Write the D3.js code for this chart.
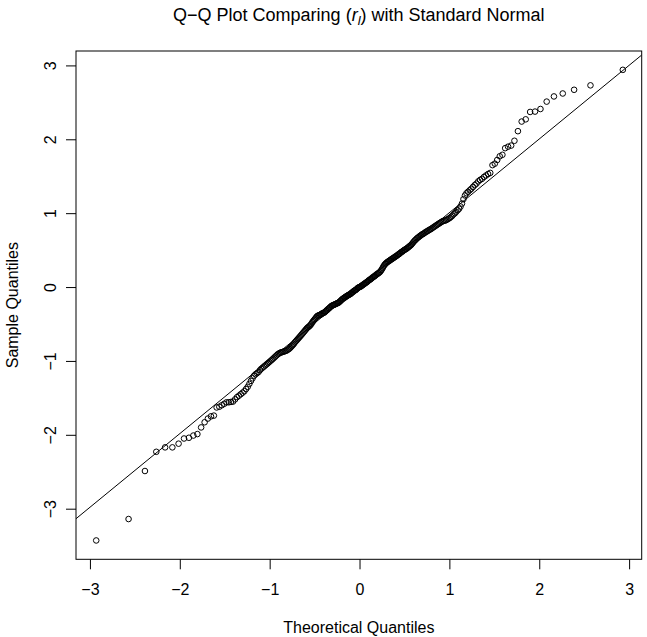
<!DOCTYPE html>
<html>
<head>
<meta charset="utf-8">
<script src="https://cdn.jsdelivr.net/npm/d3@7"></script>
<style>
  body { margin: 0; background: #fff; }
  svg { display: block; font-family: "Liberation Sans", Arial, Helvetica, sans-serif; }
</style>
</head>
<body>
<svg id="chart" width="647" height="637"></svg>
<script>
// sorted sample quantiles (r_l), one per point
const sampleQuantiles = [
  -3.43, -3.14, -2.49, -2.23, -2.17, -2.17, -2.12, -2.05, -2.04, -2.01,
  -1.99, -1.90, -1.83, -1.78, -1.75, -1.74, -1.63, -1.62, -1.60, -1.58,
  -1.56, -1.56,
  -1.555, -1.55, -1.52, -1.49, -1.47, -1.45, -1.43, -1.41, -1.38, -1.35,
  -1.31, -1.27, -1.235,
  -1.20, -1.18, -1.165, -1.15, -1.125, -1.105, -1.09, -1.075, -1.06, -1.045,
  -1.03, -1.015, -1.0, -0.985, -0.97,
  -0.955, -0.94, -0.925, -0.91, -0.90, -0.89, -0.885, -0.88, -0.875, -0.87,
  -0.865, -0.86, -0.85, -0.84, -0.83, -0.815, -0.80, -0.785, -0.77, -0.75,
  -0.735, -0.72, -0.705, -0.69, -0.675,
  -0.66, -0.645, -0.63, -0.615, -0.60, -0.585, -0.57, -0.555, -0.545, -0.535,
  -0.525, -0.51, -0.495, -0.475, -0.46, -0.445, -0.43, -0.415, -0.40, -0.39,
  -0.385, -0.38, -0.375, -0.37, -0.36, -0.355, -0.35, -0.345, -0.335, -0.325,
  -0.315, -0.305, -0.295, -0.285, -0.275,
  -0.265, -0.255, -0.25, -0.245, -0.24, -0.235, -0.23, -0.225, -0.22, -0.215,
  -0.21, -0.20, -0.19, -0.18, -0.17, -0.16, -0.155, -0.145, -0.14, -0.13,
  -0.125, -0.12, -0.11, -0.105, -0.10, -0.095, -0.085, -0.075, -0.07, -0.06,
  -0.05, -0.045, -0.04, -0.03, -0.02, -0.01, -0.005, 0.0, 0.005, 0.01,
  0.02, 0.025, 0.035, 0.04, 0.05, 0.055, 0.065, 0.07, 0.08, 0.09,
  0.095, 0.105, 0.11, 0.12, 0.13, 0.135, 0.145, 0.15, 0.16, 0.17,
  0.175, 0.185, 0.19, 0.20, 0.21, 0.225, 0.24, 0.26, 0.28, 0.295,
  0.31, 0.32, 0.33, 0.34, 0.345, 0.355, 0.36, 0.37, 0.375, 0.385,
  0.39, 0.40, 0.405, 0.415, 0.42, 0.43, 0.44, 0.445, 0.455, 0.465,
  0.475, 0.48, 0.49, 0.50, 0.505, 0.515, 0.52, 0.53, 0.54, 0.55,
  0.56, 0.57, 0.585, 0.60, 0.615, 0.63, 0.64, 0.655, 0.665, 0.675,
  0.685, 0.695, 0.705, 0.715, 0.72, 0.73, 0.74, 0.75, 0.755, 0.765,
  0.775, 0.78, 0.79, 0.80, 0.81, 0.82, 0.83, 0.84, 0.85, 0.86,
  0.87, 0.88, 0.89, 0.895, 0.90, 0.905, 0.915, 0.925, 0.935, 0.95,
  0.965, 0.985, 1.00, 1.02, 1.04, 1.06, 1.09, 1.13, 1.19, 1.24,
  1.27, 1.29, 1.31, 1.33, 1.355, 1.38, 1.40, 1.43, 1.45, 1.465,
  1.49, 1.51, 1.53,
  1.545, 1.65, 1.67, 1.72, 1.77, 1.79, 1.88, 1.90, 1.915, 1.98,
  2.11, 2.24, 2.27, 2.37, 2.375, 2.41, 2.51, 2.58, 2.62, 2.67,
  2.73, 2.94
];

const xTickValues = [-3, -2, -1, 0, 1, 2, 3];
const yTickValues = [-3, -2, -1, 0, 1, 2, 3];

// reference line as drawn (intercept, slope)
const lineIntercept = 0.01;
const lineSlope = 0.997;

// inverse normal cdf (Acklam) -- gives the theoretical quantiles like qnorm(ppoints(n))
function qnorm(p) {
  const a = [-3.969683028665376e+01, 2.209460984245205e+02, -2.759285104469687e+02, 1.383577518672690e+02, -3.066479806614716e+01, 2.506628277459239e+00];
  const b = [-5.447609879822406e+01, 1.615858368580409e+02, -1.556989798598866e+02, 6.680131188771972e+01, -1.328068155288572e+01];
  const c = [-7.784894002430293e-03, -3.223964580411365e-01, -2.400758277161838e+00, -2.549732539343734e+00, 4.374664141464968e+00, 2.938163982698783e+00];
  const d = [7.784695709041462e-03, 3.224671290700398e-01, 2.445134137142996e+00, 3.754408661907416e+00];
  const plow = 0.02425;
  let q, r;
  if (p < plow) {
    q = Math.sqrt(-2 * Math.log(p));
    return (((((c[0]*q+c[1])*q+c[2])*q+c[3])*q+c[4])*q+c[5]) / ((((d[0]*q+d[1])*q+d[2])*q+d[3])*q+1);
  }
  if (p > 1 - plow) {
    q = Math.sqrt(-2 * Math.log(1 - p));
    return -(((((c[0]*q+c[1])*q+c[2])*q+c[3])*q+c[4])*q+c[5]) / ((((d[0]*q+d[1])*q+d[2])*q+d[3])*q+1);
  }
  q = p - 0.5;
  r = q * q;
  return (((((a[0]*r+a[1])*r+a[2])*r+a[3])*r+a[4])*r+a[5])*q / (((((b[0]*r+b[1])*r+b[2])*r+b[3])*r+b[4])*r+1);
}

const n = sampleQuantiles.length;
const points = sampleQuantiles.map((v, i) => ({ t: qnorm((i + 0.5) / n), v: v }));

const box = { left: 76, right: 641.7, top: 51, bottom: 559.3 };

const x = d3.scaleLinear().domain([-3.155, 3.14]).range([box.left, box.right]);
const y = d3.scaleLinear().domain([-3.685, 3.195]).range([box.bottom, box.top]);

const svg = d3.select("#chart");

svg.append("defs").append("clipPath").attr("id", "plotClip")
  .append("rect")
  .attr("x", box.left).attr("y", box.top)
  .attr("width", box.right - box.left).attr("height", box.bottom - box.top);

// title with italic r subscript l
const title = svg.append("text")
  .attr("x", (box.left + box.right) / 2)
  .attr("y", 21)
  .attr("text-anchor", "middle")
  .attr("font-size", 18)
  .attr("fill", "#000");
title.append("tspan").text("Q\u2212Q Plot Comparing (");
title.append("tspan").attr("font-style", "italic").text("r");
title.append("tspan").attr("font-style", "italic").attr("font-size", 13).attr("dy", 4).text("l");
title.append("tspan").attr("dy", -4).text(") with Standard Normal");

// x axis
const xAxis = svg.append("g")
  .attr("transform", `translate(0,${box.bottom})`)
  .call(d3.axisBottom(x).tickValues(xTickValues).tickSize(10).tickPadding(14).tickFormat(d3.format("d")));
xAxis.select(".domain").remove();
xAxis.selectAll(".tick line").attr("stroke", "#000");
xAxis.selectAll(".tick text")
  .attr("font-size", 16)
  .attr("font-family", "Liberation Sans, Arial, sans-serif")
  .attr("fill", "#000");

// y axis, labels turned like R's default
const yAxis = svg.append("g")
  .attr("transform", `translate(${box.left},0)`)
  .call(d3.axisLeft(y).tickValues(yTickValues).tickSize(10).tickFormat(d3.format("d")));
yAxis.select(".domain").remove();
yAxis.selectAll(".tick line").attr("stroke", "#000");
yAxis.selectAll(".tick text")
  .attr("transform", "rotate(-90)")
  .attr("x", 0)
  .attr("y", -20)
  .attr("dy", null)
  .attr("text-anchor", "middle")
  .attr("font-size", 16)
  .attr("font-family", "Liberation Sans, Arial, sans-serif")
  .attr("fill", "#000");

// axis titles
svg.append("text")
  .attr("x", (box.left + box.right) / 2)
  .attr("y", 633)
  .attr("text-anchor", "middle")
  .attr("font-size", 16)
  .text("Theoretical Quantiles");

svg.append("text")
  .attr("transform", `translate(18,${(box.top + box.bottom) / 2}) rotate(-90)`)
  .attr("text-anchor", "middle")
  .attr("font-size", 16)
  .text("Sample Quantiles");

// reference line
const xd = x.domain();
svg.append("line")
  .attr("clip-path", "url(#plotClip)")
  .attr("x1", x(xd[0])).attr("y1", y(lineIntercept + lineSlope * xd[0]))
  .attr("x2", x(xd[1])).attr("y2", y(lineIntercept + lineSlope * xd[1]))
  .attr("stroke", "#000")
  .attr("stroke-width", 1);

// points
svg.append("g")
  .selectAll("circle")
  .data(points)
  .join("circle")
  .attr("cx", d => x(d.t))
  .attr("cy", d => y(d.v))
  .attr("r", 2.8)
  .attr("fill", "none")
  .attr("stroke", "#000")
  .attr("stroke-width", 1);

// box
svg.append("rect")
  .attr("x", box.left).attr("y", box.top)
  .attr("width", box.right - box.left).attr("height", box.bottom - box.top)
  .attr("fill", "none")
  .attr("stroke", "#000")
  .attr("stroke-width", 1);
</script>
</body>
</html>
